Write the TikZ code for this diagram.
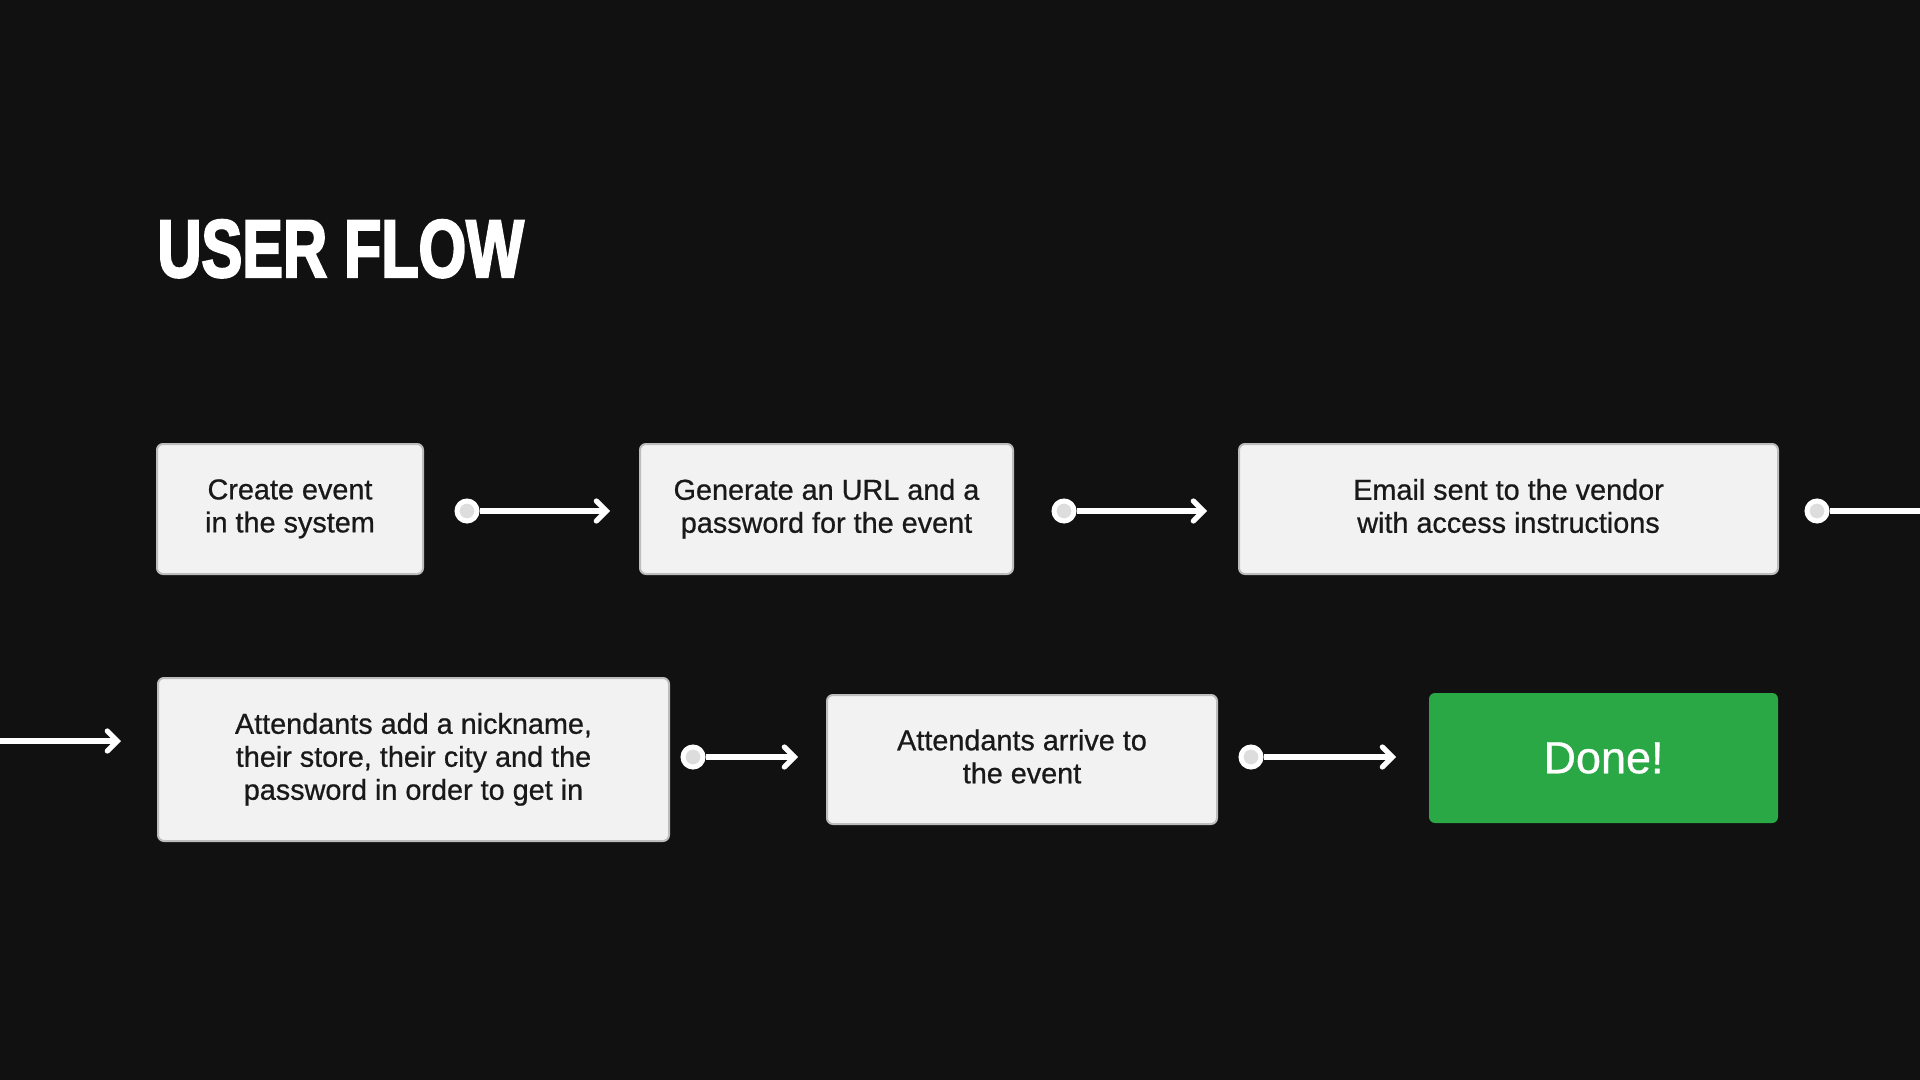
\documentclass[tikz,border=0pt]{standalone}
\usepackage{fontspec}
\setmainfont{Liberation Sans}
\newfontfamily\boxfont[FakeBold=0.7]{Liberation Sans}
\newfontfamily\titlefont[FakeStretch=0.745,FakeBold=2.6]{Liberation Sans Bold}
\usetikzlibrary{arrows.meta}
\definecolor{bg}{HTML}{111111}
\definecolor{boxfill}{HTML}{F2F2F2}
\definecolor{boxline}{HTML}{BDBDBD}
\definecolor{donegreen}{HTML}{2AA846}
\definecolor{dotfill}{HTML}{DDDDDD}

\begin{document}
\begin{tikzpicture}[x=0.5pt,y=-0.5pt,
  stepbox/.style={draw=boxline,line width=1pt,fill=boxfill,rounded corners=3pt,align=center,
    font=\boxfont\fontsize{14.4}{16.5}\selectfont,text=black!90,text depth=0.6ex},
  dot/.style={circle,draw=white,line width=2.5pt,fill=dotfill,minimum size=10pt,inner sep=0pt},
  flow/.style={white,line width=2.6pt,-{Straight Barb[length=5pt,width=10pt,line cap=round]}}]
  \useasboundingbox (0,0) rectangle (1920,1080);
  \fill[bg] (-10,-10) rectangle (1930,1090);
  \node[anchor=base west,inner sep=0pt,text=white,font=\titlefont\fontsize{41}{41}\selectfont] (title) at (157,277) {USER FLOW};

  \node[stepbox,minimum width=133pt,minimum height=65pt] (create) at (290,509) {Create event\\in the system};
  \node[stepbox,minimum width=186.5pt,minimum height=65pt] (url) at (826.5,509) {Generate an URL and a\\password for the event};
  \node[stepbox,minimum width=269.5pt,minimum height=65pt] (email) at (1508.5,509) {Email sent to the vendor\\with access instructions};
  \node[stepbox,minimum width=255.5pt,minimum height=81.5pt] (add) at (413.5,759.5) {Attendants add a nickname,\\their store, their city and the\\password in order to get in};
  \node[stepbox,minimum width=195pt,minimum height=64.5pt] (arrive) at (1022,759.5) {Attendants arrive to\\the event};
  \node[fill=donegreen,rounded corners=3pt,minimum width=174.5pt,minimum height=65pt,text=white,
    font=\boxfont\fontsize{22.5}{22.5}\selectfont] (done) at (1603.5,758) {Done!};

  \coordinate (a1) at (610,511);
  \coordinate (a2) at (1207,511);
  \coordinate (a3) at (1920,511);
  \coordinate (b0) at (0,741);
  \coordinate (b1) at (121,741);
  \coordinate (a4) at (798,757);
  \coordinate (a5) at (1396,757);

  \draw[flow] (467,511) node[dot] (d1) {} (d1) -- (a1);
  \draw[flow] (1064,511) node[dot] (d2) {} (d2) -- (a2);
  \draw[white,line width=2.6pt] (1817,511) node[dot] (d3) {} (d3) -- (a3);
  \draw[flow] (b0) -- (b1);
  \draw[flow] (693,757) node[dot] (d4) {} (d4) -- (a4);
  \draw[flow] (1251,757) node[dot] (d5) {} (d5) -- (a5);
\end{tikzpicture}
\end{document}
